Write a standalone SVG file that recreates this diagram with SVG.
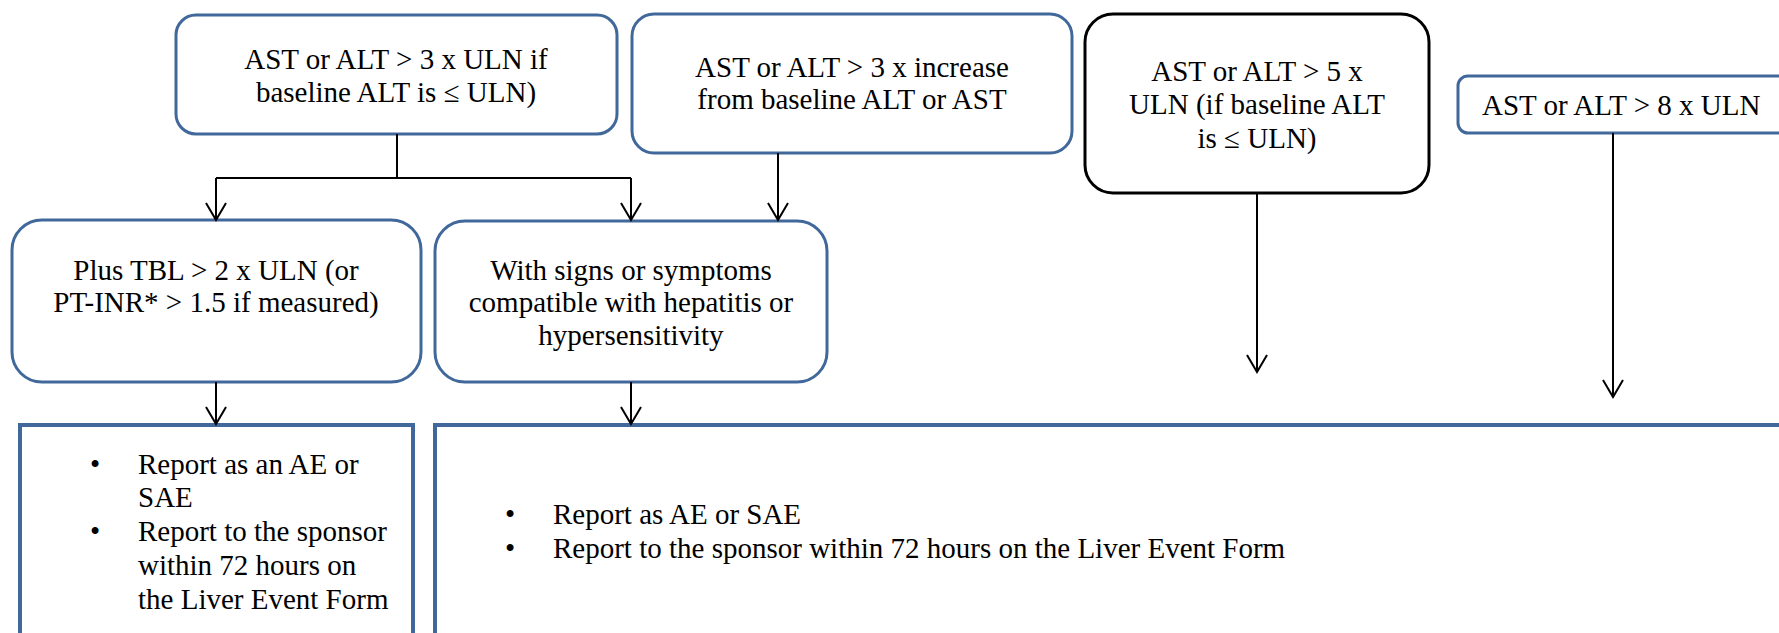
<svg xmlns="http://www.w3.org/2000/svg" width="1779" height="633" viewBox="0 0 1779 633">
<style>
text{font-family:"Liberation Serif","Times New Roman",serif;font-size:29px;fill:#000}
.c{text-anchor:middle}
.rb{fill:#fff;stroke:#41689B;stroke-width:3}
.kb{fill:#fff;stroke:#000;stroke-width:3}
.sq{fill:#fff;stroke:#41689B;stroke-width:4}
.ln{fill:none;stroke:#000;stroke-width:2}
</style>
<defs>
<marker id="ah" markerUnits="userSpaceOnUse" markerWidth="24" markerHeight="24" viewBox="0 0 24 24" refX="22" refY="12" orient="auto">
<path d="M5,2 L22,12 L5,22" fill="none" stroke="#000" stroke-width="2"/>
</marker>
</defs>
<rect width="1779" height="633" fill="#fff"/>
<g id="n1"><rect class="rb" x="176" y="15" width="441" height="119" rx="20"/>
<text class="c" x="396" y="69">AST or ALT &gt; 3 x ULN if</text>
<text class="c" x="396" y="102">baseline ALT is ≤ ULN)</text></g>
<g id="n2"><rect class="rb" x="632" y="14" width="440" height="139" rx="22"/>
<text class="c" x="852" y="77">AST or ALT &gt; 3 x increase</text>
<text class="c" x="852" y="109">from baseline ALT or AST</text></g>
<g id="n3"><rect class="kb" x="1085" y="14" width="344" height="179" rx="28"/>
<text class="c" x="1257" y="81">AST or ALT &gt; 5 x</text>
<text class="c" x="1257" y="114">ULN (if baseline ALT</text>
<text class="c" x="1257" y="148">is ≤ ULN)</text></g>
<g id="n4"><rect class="rb" x="1458" y="76" width="360" height="57" rx="10"/>
<text x="1482" y="115">AST or ALT &gt; 8 x ULN</text></g>
<g id="n5"><rect class="rb" x="12" y="220" width="409" height="162" rx="30"/>
<text class="c" x="216" y="280">Plus TBL &gt; 2 x ULN (or</text>
<text class="c" x="216" y="312">PT-INR* &gt; 1.5 if measured)</text></g>
<g id="n6"><rect class="rb" x="435" y="221" width="392" height="161" rx="30"/>
<text class="c" x="631" y="280">With signs or symptoms</text>
<text class="c" x="631" y="312">compatible with hepatitis or</text>
<text class="c" x="631" y="345">hypersensitivity</text></g>
<g id="n7"><rect class="sq" x="20" y="425" width="393" height="240"/>
<text class="c" x="95" y="474">•</text>
<text x="138" y="474">Report as an AE or</text>
<text x="138" y="507">SAE</text>
<text class="c" x="95" y="541">•</text>
<text x="138" y="541">Report to the sponsor</text>
<text x="138" y="575">within 72 hours on</text>
<text x="138" y="609">the Liver Event Form</text></g>
<g id="n8"><rect class="sq" x="435" y="425" width="1400" height="240"/>
<text class="c" x="510" y="524">•</text>
<text x="553" y="524">Report as AE or SAE</text>
<text class="c" x="510" y="558">•</text>
<text x="553" y="558">Report to the sponsor within 72 hours on the Liver Event Form</text></g>
<g id="connectors">
<path class="ln" d="M397,134 V178 M216,178 H631"/>
<path class="ln" d="M216,178 V220" marker-end="url(#ah)"/>
<path class="ln" d="M631,178 V220" marker-end="url(#ah)"/>
<path class="ln" d="M778,153 V220" marker-end="url(#ah)"/>
<path class="ln" d="M1257,193 V372" marker-end="url(#ah)"/>
<path class="ln" d="M1613,133 V397" marker-end="url(#ah)"/>
<path class="ln" d="M216,382 V424" marker-end="url(#ah)"/>
<path class="ln" d="M631,382 V424" marker-end="url(#ah)"/>
</g>
</svg>
